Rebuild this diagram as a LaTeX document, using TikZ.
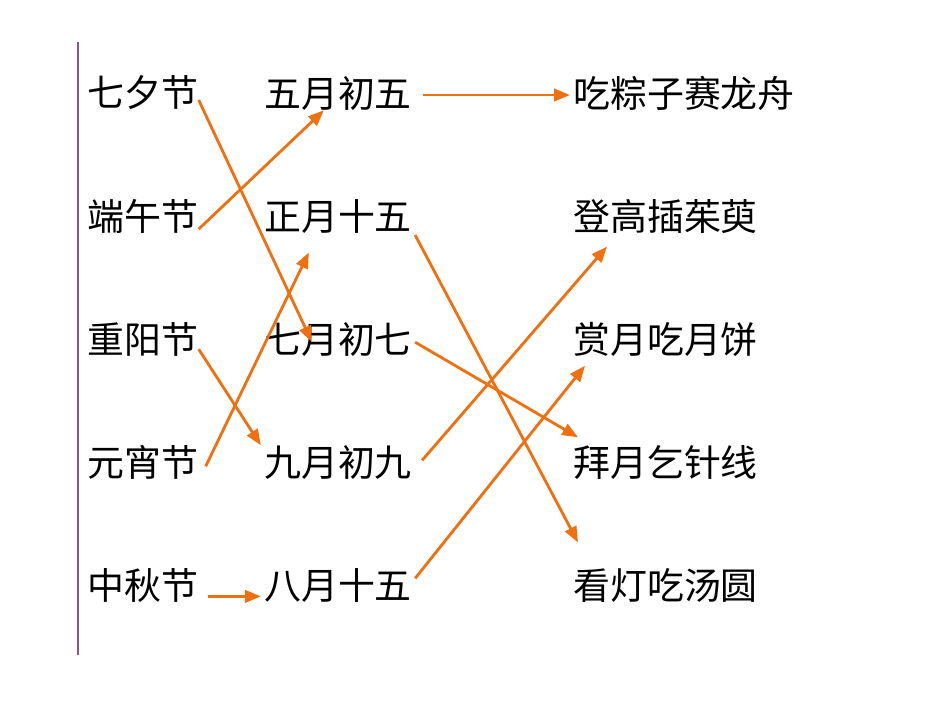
\documentclass[tikz,border=0pt]{standalone}
\usepackage{fontspec}
\newfontfamily\cjk{Noto Sans CJK SC}
\usetikzlibrary{arrows.meta,calc}
\definecolor{arr}{HTML}{F07010}
\begin{document}
\begin{tikzpicture}[x=0.02cm,y=-0.02cm,
  lbl/.style={inner sep=0pt,font=\cjk\fontsize{21}{21}\selectfont},
  con/.style={arr,line width=1.6pt,-{Triangle[length=9pt,width=7pt]}}]
\useasboundingbox (0,0) rectangle (950,713);
\draw[color=gray!70!violet,line width=1pt] (78,42) -- (78,655);
\foreach \t/\n [count=\i] in {七夕节/a,端午节/b,重阳节/c,元宵节/d,中秋节/e}
  \node[lbl] (\n) at (143,{93+123.1*(\i-1)}) {\t};
\foreach \t/\n [count=\i] in {五月初五/p,正月十五/q,七月初七/r,九月初九/s,八月十五/t}
  \node[lbl] (\n) at (338,{93+123.1*(\i-1)}) {\t};
\foreach \t/\n [count=\i] in {吃粽子赛龙舟/u,登高插茱萸/v,赏月吃月饼/w,拜月乞针线/x,看灯吃汤圆/y}
  \node[lbl,anchor=west] (\n) at (573,{93+123.1*(\i-1)}) {\t};
\draw[con] ($(a.east)+(0,7)$) -- ($(r.north west)+(48,20)$);
\draw[con] ($(b.east)+(0,13)$) -- ($(p.south west)+(60,0)$);
\draw[con] ($(c.east)+(0,10)$) -- ($(s.west)+(-3,-17)$);
\draw[con] ($(d.east)+(7,4)$) -- ($(q.south west)+(45,19)$);
\draw[con] ($(e.east)+(9,11)$) -- ($(t.west)+(-3,11)$);
\draw[con] ($(p.east)+(11,2)$) -- ($(u.west)+(-3,2)$);
\draw[con] ($(q.east)+(3,19)$) -- ($(y.west)+(5,-43)$);
\draw[con] ($(r.east)+(3,3)$) -- ($(x.west)+(5,-25)$);
\draw[con] ($(s.east)+(10,-2)$) -- ($(v.south west)+(34,13)$);
\draw[con] ($(t.east)+(3,-7)$) -- ($(w.south west)+(12,9)$);
\end{tikzpicture}
\end{document}
